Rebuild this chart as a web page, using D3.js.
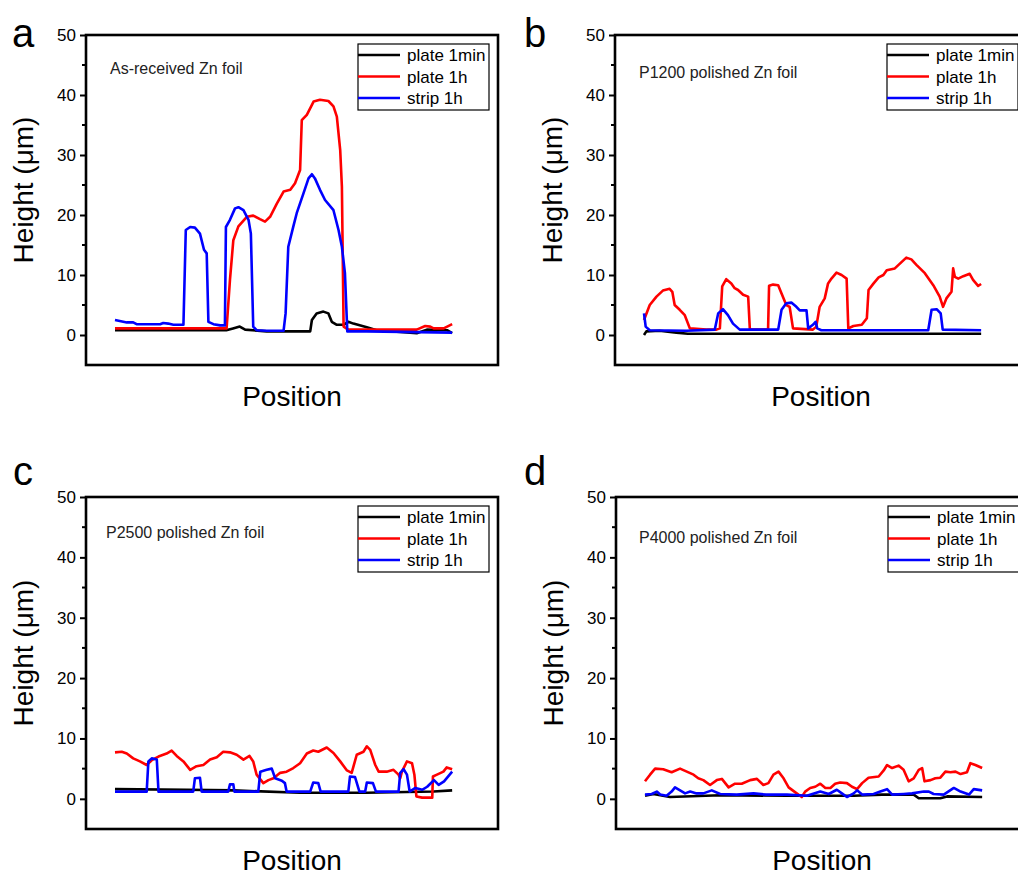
<!DOCTYPE html>
<html>
<head>
<meta charset="utf-8">
<script src="https://cdn.jsdelivr.net/npm/d3@7"></script>
<style>
  body { margin: 0; background: #fff; }
  svg { display: block; font-family: "Liberation Sans", Arial, sans-serif; }
</style>
</head>
<body>
<svg id="chart" width="1018" height="876"></svg>
<script>
// series names and colours, same for every panel
var seriesNames = ["plate 1min", "plate 1h", "strip 1h"];
var seriesColors = ["#000000", "#ff0000", "#0000ff"];
var yTicks = [0, 10, 20, 30, 40, 50];
var yMinorTicks = [5, 15, 25, 35, 45];

// panel a : As-received Zn foil  ([position, height um])
var aPlate1min = [[0,0.8],[17,0.8],[33,0.8],[35,1.1],[37,1.4],[38.6,0.9],[45,0.6],[51.9,0.6],[57.9,0.6],[58.4,2.5],[59.8,3.6],[61.8,3.9],[63.3,3.6],[64.3,2.2],[65.8,1.7],[67.8,1.7],[69.2,2.2],[70.7,1.9],[74.7,1.3],[77.6,0.8],[82.6,0.6],[89.5,0.3],[92.5,0.9],[98.5,0.8],[100,0.3]];
var aPlate1h = [[0,1.1],[33.1,1.1],[34.1,9.2],[35.1,15.8],[36.6,18.1],[39.1,19.7],[41,19.9],[43,19.3],[44.5,18.9],[46,19.7],[48,21.9],[50,23.9],[52,24.2],[53.4,25.3],[54.9,27.5],[55.4,35.8],[56.9,36.7],[58.9,38.9],[60.8,39.2],[63.3,39],[64.8,38.1],[65.8,36.4],[66.8,30.8],[67.3,24.7],[67.8,1.4],[69.2,0.9],[89.5,0.9],[92,1.5],[93.5,1.4],[94.5,1.1],[97.5,1.1],[100,1.8]];
var aStrip1h = [[0,2.5],[3.5,2.1],[5.4,2.1],[6.4,1.8],[13.4,1.8],[14.3,2.0],[15.8,1.9],[17.3,1.7],[20.3,1.7],[21,17.5],[22.3,18.0],[23.7,17.9],[25.2,16.9],[26.4,14.2],[27.2,13.6],[27.7,2.2],[29.2,1.8],[31.2,1.6],[32.6,1.6],[32.9,18.0],[34.1,19.2],[35.6,21.1],[36.6,21.3],[38.1,20.8],[39.6,19.2],[40.3,16.9],[41,1.4],[42,0.8],[45,0.7],[50,0.7],[50.6,3.6],[51.4,14.7],[52.9,18.1],[53.9,20.3],[55.9,23.6],[57.4,26.1],[58.4,26.8],[59.3,26.1],[60.8,24.2],[62.3,22.5],[64.8,20.8],[66.3,17.5],[67.3,14.7],[68.2,10.3],[68.9,0.6],[74.7,0.6],[100,0.4]];

// panel b : P1200 polished Zn foil
var bPlate1min = [[0,0],[0.7,0.6],[4.6,0.7],[9.6,0.4],[13,0.2],[100,0.2]];
var bPlate1h = [[0,2.5],[1.7,5],[3.7,6.4],[5.6,7.4],[7.6,7.7],[8.4,7.2],[9.1,5],[10.6,4.2],[12.1,3.3],[13.6,1.1],[18.5,0.9],[21.5,0.9],[22.5,1.1],[23.2,8.1],[24.4,9.3],[25.9,8.6],[26.9,7.8],[27.9,7.5],[29.4,6.7],[30.9,6.4],[31.4,0.9],[36.8,0.9],[37.1,8.2],[38.3,8.4],[39.8,8.3],[40.8,6.9],[42.2,5],[43.2,4.7],[44.2,1.1],[50.1,0.9],[51.1,1.4],[52.1,4.7],[53.6,6.1],[54.6,8.6],[55.6,9.4],[57.1,10.4],[58.6,10],[60.1,9.4],[60.6,1.1],[62.1,1.5],[64.6,1.7],[66.1,2.8],[66.6,7.5],[68.1,8.6],[69.6,9.6],[71,10],[72,10.8],[74.4,11.1],[75.9,11.9],[77.8,12.9],[79.3,12.6],[80.8,11.7],[83.3,10.3],[85.8,8.3],[87.7,6.4],[88.7,4.7],[89.7,6.1],[91.2,7.2],[91.7,11.1],[92.2,9.7],[93.2,9.4],[94.7,9.8],[96.6,10.2],[97.6,9.2],[99.1,8.2],[100,8.5]];
var bStrip1h = [[0,3.6],[0.5,1.4],[1.7,0.8],[12.6,0.7],[21,0.9],[22,3.6],[23.4,4.3],[24.9,3.3],[26.4,1.9],[28.4,0.9],[39.8,0.9],[40.8,4.2],[42.2,5.3],[43.7,5.4],[45.2,4.7],[46.2,4.1],[48.2,4.1],[48.7,1.1],[50.1,1.7],[50.9,2.2],[51.4,1.1],[52.6,0.8],[84.3,0.8],[85.3,4.2],[86.8,4.3],[88,3.6],[88.6,0.9],[100,0.8]];

// panel c : P2500 polished Zn foil
var cPlate1min = [[0,1.6],[21.3,1.5],[35.1,1.4],[54.9,1.0],[74.7,1.0],[94.5,1.2],[100,1.4]];
var cPlate1h = [[0,7.7],[2,7.8],[3.5,7.5],[5.4,6.7],[7.4,6.2],[9.4,5.6],[10.9,6.4],[12.9,7.0],[15.3,7.5],[16.8,8.0],[18.3,7.1],[20.3,6.2],[22.3,4.8],[24.2,5.4],[26.2,5.6],[28.2,6.5],[30.2,6.9],[32.1,7.8],[34.1,7.7],[36.1,7.3],[38.1,6.5],[39.9,7.1],[41,6.2],[42,4.0],[44,2.6],[45.5,3.1],[47,3.4],[49,4.3],[50.9,4.5],[52.9,5.1],[54.9,5.9],[56.9,7.5],[58.8,8.0],[60.3,7.8],[62.8,8.5],[64.8,7.6],[66.8,6.2],[68.8,4.7],[70.2,4.3],[71.7,7.3],[73.7,7.8],[74.7,8.7],[75.7,8.1],[77.2,5.6],[78.2,4.5],[80.6,4.5],[82.6,4.8],[84.1,4.0],[84.6,3.4],[85.1,4.5],[86.6,6.2],[88.1,5.9],[88.8,4.0],[89.4,0.4],[91.1,0.2],[94.1,0.2],[94.3,3.7],[95.5,4.0],[97.4,4.5],[98.4,5.2],[100,4.9]];
var cStrip1h = [[0,1.2],[9.4,1.2],[9.9,6.2],[10.9,6.7],[12.4,6.5],[12.9,1.2],[23.2,1.2],[23.7,3.4],[25.2,3.5],[25.7,1.2],[33.6,1.2],[34.1,2.4],[35.1,2.4],[35.4,1.2],[42.5,1.2],[43.1,4.5],[45,4.8],[46.5,5.0],[47.5,3.4],[49.5,3.0],[50.4,2.6],[50.9,1.2],[57.9,1.2],[58.8,2.7],[60.3,2.6],[61,1.2],[69.2,1.2],[69.7,3.7],[71.2,3.6],[72.5,1.2],[74.2,1.2],[74.7,2.7],[76.5,2.6],[77.4,1.2],[84.1,1.2],[84.6,4.3],[85.6,4.9],[86.6,4.0],[87.4,1.2],[89.1,1.8],[91.1,1.5],[92.6,2.0],[94.6,3.1],[96,2.3],[97.6,2.9],[100,4.5]];

// panel d : P4000 polished Zn foil
var dPlate1min = [[0,0.5],[2.5,0.8],[7.4,0.3],[22.3,0.6],[42.1,0.5],[61.9,0.5],[70.3,0.7],[79.7,0.7],[81.2,0.1],[87.6,0.1],[89.6,0.4],[100,0.3]];
var dPlate1h = [[0,2.9],[1.5,4.0],[3,5.0],[5.4,4.9],[7.9,4.4],[10.4,5.0],[12.4,4.5],[14.4,4.0],[15.8,3.4],[17.3,3.1],[19.3,2.3],[21.3,3.1],[22.8,3.3],[24.8,1.9],[26.7,2.5],[28.7,2.5],[31.2,3.1],[33.2,3.3],[35.1,2.3],[36.6,2.6],[38.1,4.0],[39.6,4.5],[41.1,3.4],[42.6,1.9],[45,0.9],[46.5,0.3],[47.5,1.2],[49,1.8],[50.5,2.0],[52,2.5],[53.5,1.8],[55,1.8],[56.4,2.5],[57.9,2.7],[59.9,2.6],[61.4,2.0],[62.9,1.6],[64.4,2.6],[66.3,3.5],[69.3,3.7],[70.8,4.7],[71.8,5.6],[73.3,5.1],[75.2,5.5],[76.7,4.8],[78.2,2.9],[79.7,3.4],[81.2,4.8],[82.2,5.1],[82.9,2.9],[84.7,3.1],[86.1,3.4],[87.6,3.5],[89.1,4.5],[90.6,4.4],[92.1,4.5],[93.6,4.1],[95.5,4.4],[96.5,5.9],[98,5.6],[100,5.1]];
var dStrip1h = [[0,0.7],[2,0.8],[3.5,1.2],[4.5,0.7],[6.4,0.5],[7.9,1.2],[8.9,1.9],[10.4,1.4],[11.9,0.9],[13.4,1.2],[15.3,0.9],[17.3,0.9],[19.8,1.4],[22.3,0.8],[27.2,0.7],[32.2,0.9],[35.9,0.7],[42.1,0.7],[48,0.5],[52,1.2],[54.5,0.8],[56.9,1.5],[58.4,0.9],[59.9,0.3],[61.9,0.9],[62.9,1.4],[64.4,0.7],[67.8,0.8],[69.8,1.2],[71.8,1.6],[73.3,0.7],[76.7,0.8],[79.2,0.9],[82.7,1.2],[84.2,1.2],[85.6,0.8],[88.6,0.7],[91.6,1.8],[93.6,1.2],[96.1,0.7],[97.5,1.6],[100,1.4]];

var panels = [
  {letter: "a", note: "As-received Zn foil", series: [aPlate1min, aPlate1h, aStrip1h],
   left: 86, top: 35, bottom: 365, letterX: 12, letterY: 47, noteX: 24, noteY: 39},
  {letter: "b", note: "P1200 polished Zn foil", series: [bPlate1min, bPlate1h, bStrip1h],
   left: 615, top: 35, bottom: 365, letterX: 524, letterY: 47, noteX: 24, noteY: 43},
  {letter: "c", note: "P2500 polished Zn foil", series: [cPlate1min, cPlate1h, cStrip1h],
   left: 86, top: 497, bottom: 829, letterX: 13, letterY: 485, noteX: 20, noteY: 41},
  {letter: "d", note: "P4000 polished Zn foil", series: [dPlate1min, dPlate1h, dStrip1h],
   left: 616, top: 497, bottom: 829, letterX: 524, letterY: 485, noteX: 23, noteY: 46}
];

var svg = d3.select("#chart");
var width = 412;

panels.forEach(function(p) {
  var height = p.bottom - p.top;
  var g = svg.append("g")
    .attr("transform", "translate(" + p.left + "," + p.top + ")");

  var x = d3.scaleLinear().domain([-8.6, 113.6]).range([0, width]);
  var y = d3.scaleLinear().domain([-5, 50]).range([height, 0]);

  // lines, drawn in legend order so blue ends on top
  p.series.forEach(function(data, i) {
    g.append("path")
      .datum(data)
      .attr("fill", "none")
      .attr("stroke", seriesColors[i])
      .attr("stroke-width", 2.6)
      .attr("stroke-linejoin", "round")
      .attr("d", d3.line()
        .x(function(d) { return x(d[0]); })
        .y(function(d) { return y(d[1]); }));
  });

  // frame
  g.append("rect")
    .attr("x", 0).attr("y", 0)
    .attr("width", width).attr("height", height)
    .attr("fill", "none")
    .attr("stroke", "#000")
    .attr("stroke-width", 2.6);

  // y axis
  var yAxis = g.append("g")
    .call(d3.axisLeft(y).tickValues(yTicks).tickSize(6).tickSizeOuter(0).tickPadding(4));
  yAxis.select(".domain").remove();
  yAxis.selectAll("line").attr("stroke-width", 2);
  yAxis.selectAll("text")
    .attr("font-size", "17px")
    .attr("font-family", "Liberation Sans, Arial, sans-serif")
    .attr("fill", "#000");

  g.selectAll(".minor")
    .data(yMinorTicks)
    .enter()
    .append("line")
      .attr("x1", -4).attr("x2", 0)
      .attr("y1", function(d) { return y(d); })
      .attr("y2", function(d) { return y(d); })
      .attr("stroke", "#000")
      .attr("stroke-width", 2);

  // axis titles
  g.append("text")
    .attr("transform", "translate(-53," + (height / 2 - 10) + ") rotate(-90)")
    .attr("text-anchor", "middle")
    .style("font-size", "28px")
    .text("Height (\u03bcm)");

  g.append("text")
    .attr("x", width / 2)
    .attr("y", height + 41)
    .attr("text-anchor", "middle")
    .style("font-size", "28px")
    .text("Position");

  // sample note
  g.append("text")
    .attr("x", p.noteX)
    .attr("y", p.noteY)
    .style("font-size", "16px")
    .style("fill", "#222")
    .text(p.note);

  // legend
  var lg = g.append("g").attr("transform", "translate(" + (width - 140) + ",9)");
  lg.append("rect")
    .attr("width", 131).attr("height", 66)
    .attr("fill", "#fff")
    .attr("stroke", "#000")
    .attr("stroke-width", 1.2);
  seriesNames.forEach(function(name, i) {
    var ly = 11 + i * 21.5;
    lg.append("line")
      .attr("x1", 0).attr("x2", 42)
      .attr("y1", ly).attr("y2", ly)
      .attr("stroke", seriesColors[i])
      .attr("stroke-width", 2.6);
    lg.append("text")
      .attr("x", 49)
      .attr("y", ly + 6)
      .style("font-size", "17px")
      .text(name);
  });

  // panel letter
  svg.append("text")
    .attr("x", p.letterX)
    .attr("y", p.letterY)
    .style("font-size", "40px")
    .text(p.letter);
});
</script>
</body>
</html>
